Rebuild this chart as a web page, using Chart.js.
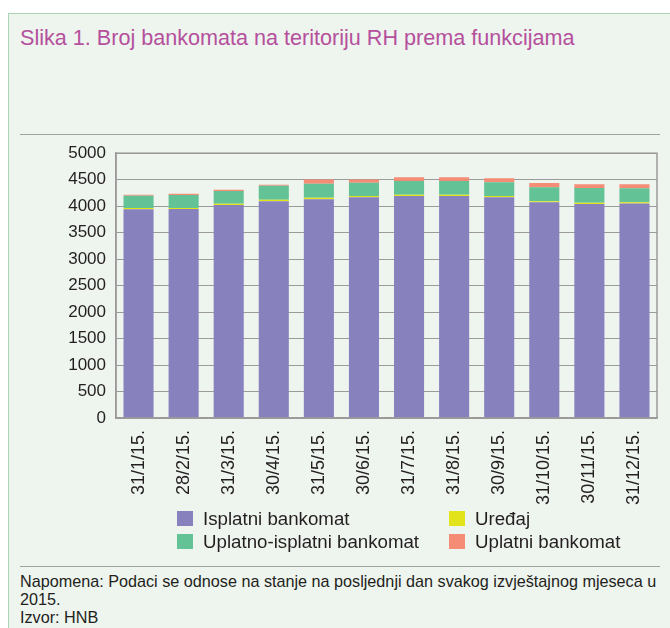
<!DOCTYPE html>
<html>
<head>
<meta charset="utf-8">
<script src="https://cdn.jsdelivr.net/npm/chart.js@4"></script>
<style>
  body { margin: 0; background: #fff; font-family: "Liberation Sans", Arial, sans-serif; }
  #panel { position: absolute; left: 8px; top: 13px; width: 662px; height: 615px;
           background: #eef4ee; border-left: 1px solid #a9d5b5; border-top: 1px solid #a9d5b5; }
  #title { position: absolute; left: 20px; top: 25px; font-size: 21.6px; color: #b5509d; }
  .rule { position: absolute; left: 20px; width: 640px; height: 1px; background: #a0a0a0; }
  #chart { position: absolute; left: 0; top: 133px; }
  #legend { position: absolute; left: 177px; top: 508px; font-size: 18.7px; color: #231f20; }
  .item { position: absolute; white-space: nowrap; line-height: 22px; }
  .box { display: inline-block; width: 16px; height: 15px; vertical-align: -1px; margin-right: 10px; }
  #note { position: absolute; left: 20px; top: 572px; font-size: 16.2px; line-height: 18px; color: #231f20; width: 645px; }
</style>
</head>
<body>
<div id="panel"></div>
<div id="title">Slika 1. Broj bankomata na teritoriju RH prema funkcijama</div>
<div class="rule" style="top:134px"></div>
<canvas id="chart" width="670" height="380"></canvas>
<div id="legend"></div>
<div class="rule" style="top:566px"></div>
<div id="note">Napomena: Podaci se odnose na stanje na posljednji dan svakog izvještajnog mjeseca u 2015.<br>Izvor: HNB</div>
<script>
// podaci
var dates = ['31/1/15.', '28/2/15.', '31/3/15.', '30/4/15.', '31/5/15.', '30/6/15.',
             '31/7/15.', '31/8/15.', '30/9/15.', '31/10/15.', '30/11/15.', '31/12/15.'];
var isplatni = [3943, 3945, 4020, 4095, 4132, 4170, 4190, 4190, 4170, 4075, 4040, 4050];
var uredaj = [20, 20, 24, 25, 25, 24, 24, 24, 24, 20, 23, 25];
var uplatnoIsplatni = [232, 245, 240, 264, 264, 246, 259, 259, 259, 264, 278, 265];
var uplatni = [19, 22, 25, 19, 83, 64, 75, 75, 75, 76, 75, 75];
var yTicks = [0, 500, 1000, 1500, 2000, 2500, 3000, 3500, 4000, 4500, 5000];

var colors = ['#8781bd', '#e2e31b', '#63c396', '#f58c76'];
var gray = '#9b9b9b';
var fontFamily = '"Liberation Sans", Arial, sans-serif';

function ds(label, data, color) {
  return { label: label, data: data, backgroundColor: color, borderWidth: 0,
           barPercentage: 0.667, categoryPercentage: 1 };
}

// okvir oko grafa (gore i desno)
const frame = {
  id: 'frame',
  afterDraw(chart) {
    const a = chart.chartArea, c = chart.ctx;
    c.save();
    c.strokeStyle = gray;
    c.lineWidth = 1.5;
    c.strokeRect(a.left, a.top, a.right - a.left, a.bottom - a.top);
    c.restore();
  }
};

const ctx = document.getElementById('chart');
const myChart = new Chart(ctx, {
  type: 'bar',
  data: {
    labels: dates,
    datasets: [
      ds('Isplatni bankomat', isplatni, colors[0]),
      ds('Uređaj', uredaj, colors[1]),
      ds('Uplatno-isplatni bankomat', uplatnoIsplatni, colors[2]),
      ds('Uplatni bankomat', uplatni, colors[3])
    ]
  },
  options: {
    responsive: false,
    devicePixelRatio: 1,
    animation: false,
    layout: { padding: { top: 6, right: 13, left: 0, bottom: 0 } },
    plugins: { legend: { display: false }, tooltip: { enabled: false } },
    scales: {
      x: {
        stacked: true,
        grid: { display: false },
        border: { display: true, color: gray, width: 1.5 },
        ticks: { color: '#231f20', font: { family: fontFamily, size: 18 },
                 minRotation: 90, maxRotation: 90, padding: 4 },
        afterFit: function (s) { s.height = 95; }
      },
      y: {
        stacked: true,
        min: 0, max: 5000,
        afterBuildTicks: function (s) { s.ticks = yTicks.map(v => ({ value: v })); },
        grid: { color: gray, lineWidth: 1, drawTicks: false },
        border: { display: true, color: gray, width: 1.5 },
        ticks: { color: '#231f20', font: { family: fontFamily, size: 17 }, padding: 10,
                 callback: function (v) { return String(v); } },
        afterFit: function (s) { s.width = 116; }
      }
    }
  },
  plugins: [frame]
});

// legenda u dva stupca
var legend = document.getElementById('legend');
var pos = [[0, 0], [272, 0], [0, 23], [272, 23]];
myChart.data.datasets.forEach(function (d, i) {
  var el = document.createElement('div');
  el.className = 'item';
  el.style.left = pos[i][0] + 'px';
  el.style.top = pos[i][1] + 'px';
  el.innerHTML = '<span class="box" style="background:' + d.backgroundColor + '"></span>' + d.label;
  legend.appendChild(el);
});
</script>
</body>
</html>
